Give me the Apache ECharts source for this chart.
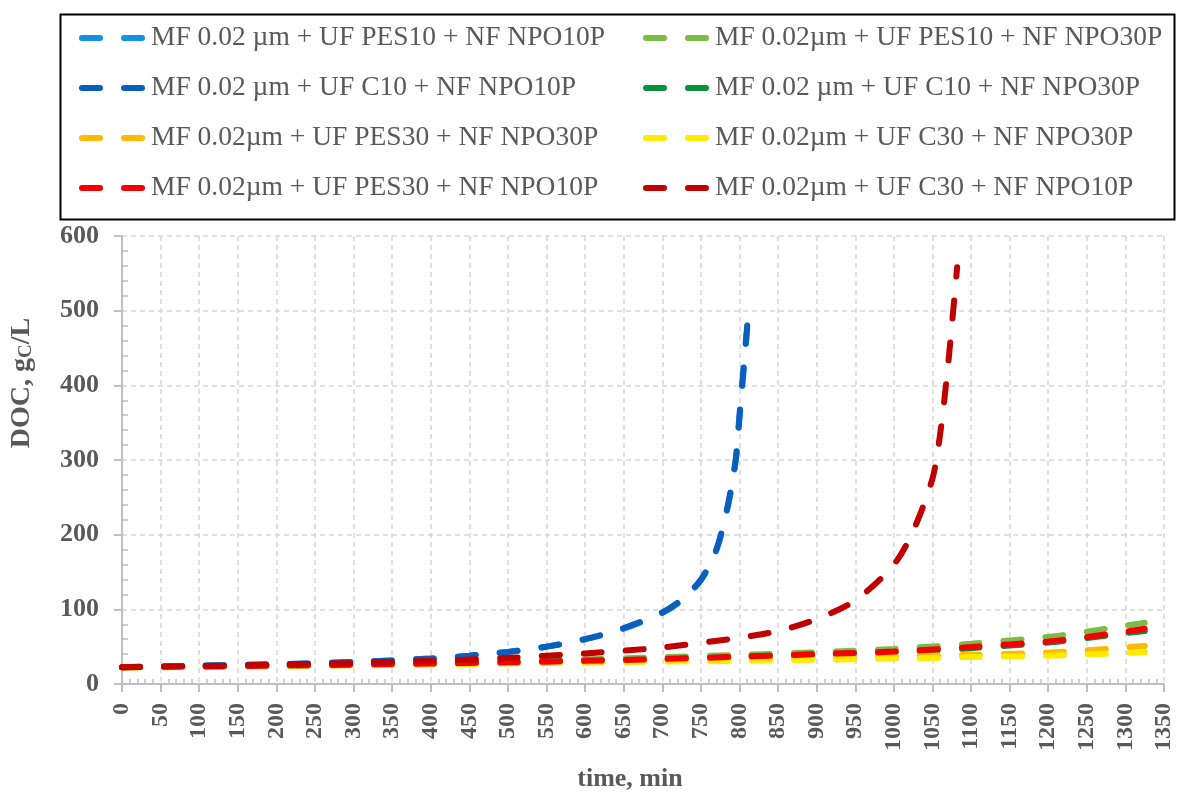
<!DOCTYPE html>
<html>
<head>
<meta charset="utf-8">
<title>DOC vs time</title>
<script src="https://cdn.jsdelivr.net/npm/echarts@6/dist/echarts.min.js"></script>
<style>
  html, body { margin: 0; padding: 0; background: #fff; }
  #chart { width: 1179px; height: 797px; }
</style>
</head>
<body>
<div id="chart"></div>
<script>
// time axis (min) for the slow-growing runs
const tLow = [0, 100, 200, 300, 400, 500, 600, 700, 800, 900, 1000, 1100, 1200, 1250, 1300, 1325];
const pes10npo30 = [22.5, 24, 25.5, 27, 28.5, 30.5, 33, 36, 39, 42.5, 47, 54, 63, 70, 78, 82];
const c10npo30   = [22.5, 23.5, 24.5, 26, 27.5, 29, 31, 33, 36, 39, 42.5, 48, 55.5, 61.5, 68, 71];
const pes30npo30 = [22.5, 23.5, 24.5, 25.5, 27, 28.5, 30, 31.5, 33, 35, 37, 39, 42, 45, 49, 51];
const c30npo30   = [22, 23, 24, 25, 26, 27.5, 28.5, 30, 31, 32.5, 34, 36, 38, 39.5, 41.5, 42.5];
const pes30npo10 = [22.5, 23.5, 24.5, 26, 27.5, 29, 31, 33.5, 36.5, 40, 43.5, 49.5, 57, 63, 70, 74];

// runs that blow up
const tBlue = [0, 100, 200, 300, 400, 450, 500, 550, 600, 650, 700, 725, 750, 770, 785, 795, 800, 805, 810];
const c10npo10   = [22.5, 24.5, 26.5, 29.5, 34, 38, 43, 50, 60, 75, 96, 113, 140, 180, 240, 300, 360, 420, 480];
const pes10npo10 = [22.5, 24.5, 26.5, 29.5, 34, 38, 43, 50, 60, 74, 95, 112, 139, 179, 238, 298, 356, 416, 476];

const tDarkRed = [0, 100, 200, 300, 400, 500, 600, 700, 800, 850, 900, 950, 1000, 1025, 1050, 1060, 1070, 1082];
const c30npo10 = [22.5, 24, 26, 28, 31, 35, 41, 49, 62, 71, 87, 112, 160, 205, 275, 335, 425, 558];

const names = [
  'MF 0.02 µm + UF PES10 + NF NPO10P',
  'MF 0.02µm + UF PES10 + NF NPO30P',
  'MF 0.02 µm + UF C10 + NF NPO10P',
  'MF 0.02 µm + UF C10 + NF NPO30P',
  'MF 0.02µm + UF PES30 + NF NPO30P',
  'MF 0.02µm + UF C30 + NF NPO30P',
  'MF 0.02µm + UF PES30 + NF NPO10P',
  'MF 0.02µm + UF C30 + NF NPO10P'
];
const colors = ['#1391e2', '#7cbb44', '#0a5fbd', '#05923a', '#ffb900', '#ffea00', '#f50000', '#c00000'];

const FONT = '"Liberation Serif", "Times New Roman", serif';
const GREY = '#595959';
const DASH = [18, 24];

function pairs(t, v) {
  return t.map((x, i) => [x, v[i]]);
}

function line(i, t, v) {
  return {
    name: names[i],
    type: 'line',
    data: pairs(t, v),
    smooth: 0.3,
    symbol: 'none',
    color: colors[i],
    lineStyle: { width: 6, type: DASH, cap: 'round', color: colors[i] }
  };
}

const legendBase = {
  orient: 'vertical',
  top: 23,
  padding: 0,
  itemWidth: 60,
  itemHeight: 14,
  itemGap: 20,
  selectedMode: false,
  itemStyle: { opacity: 0 },
  lineStyle: { width: 6, type: DASH, cap: 'round' },
  textStyle: { fontFamily: FONT, fontSize: 27.5, color: GREY, lineHeight: 30, padding: [0, 0, 0, 4] }
};

const chart = echarts.init(document.getElementById('chart'));
chart.setOption({
  animation: false,
  backgroundColor: '#fff',
  graphic: [{
    type: 'rect',
    left: 58,
    top: 12,
    shape: { width: 1114, height: 205 },
    style: { fill: 'none', stroke: '#000', lineWidth: 2 },
    z: 10
  }],
  legend: [
    Object.assign({}, legendBase, { left: 79, data: [names[0], names[2], names[4], names[6]] }),
    Object.assign({}, legendBase, { left: 643, data: [names[1], names[3], names[5], names[7]] })
  ],
  grid: { left: 120, right: 15, top: 236, bottom: 109, containLabel: false },
  xAxis: {
    type: 'value',
    min: 0,
    max: 1350,
    interval: 50,
    name: 'time, min',
    nameLocation: 'middle',
    nameGap: 82,
    nameTextStyle: { fontFamily: FONT, fontSize: 26, fontWeight: 'bold', color: GREY, padding: [0, 26, 0, 0] },
    axisLine: { lineStyle: { color: '#bfbfbf', width: 2 } },
    axisTick: { length: 8, lineStyle: { color: '#bfbfbf', width: 2 } },
    minorTick: { show: true, splitNumber: 5, length: -5, lineStyle: { color: '#bfbfbf', width: 1.5 } },
    axisLabel: {
      rotate: 90, margin: 19, fontFamily: FONT, fontSize: 24, fontWeight: 'bold', color: GREY,
      formatter: (v) => String(v)
    },
    splitLine: { show: true, lineStyle: { color: '#d6d6d6', type: [5, 4], width: 1.5 } }
  },
  yAxis: {
    type: 'value',
    min: 0,
    max: 600,
    interval: 100,
    name: 'DOC, g{sub|C}/L',
    nameLocation: 'middle',
    nameGap: 86,
    nameTextStyle: {
      fontFamily: FONT, fontSize: 28, fontWeight: 'bold', color: GREY, padding: [0, 0, 0, 154],
      rich: { sub: { fontFamily: FONT, fontSize: 19, fontWeight: 'bold', color: GREY, verticalAlign: 'bottom', padding: [8, 0, 0, 0] } }
    },
    axisLine: { show: true, lineStyle: { color: '#bfbfbf', width: 2 } },
    axisTick: { show: true, length: 8, lineStyle: { color: '#bfbfbf', width: 2 } },
    minorTick: { show: true, splitNumber: 5, length: -6, lineStyle: { color: '#bfbfbf', width: 1.5 } },
    axisLabel: { margin: 23, fontFamily: FONT, fontSize: 26, fontWeight: 'bold', color: GREY },
    splitLine: { show: true, lineStyle: { color: '#d6d6d6', type: [5, 4], width: 1.5 } }
  },
  series: [
    line(0, tBlue, pes10npo10),
    line(1, tLow, pes10npo30),
    line(2, tBlue, c10npo10),
    line(3, tLow, c10npo30),
    line(4, tLow, pes30npo30),
    line(5, tLow, c30npo30),
    line(6, tLow, pes30npo10),
    line(7, tDarkRed, c30npo10)
  ]
});
window.addEventListener('resize', () => chart.resize());
</script>
</body>
</html>
